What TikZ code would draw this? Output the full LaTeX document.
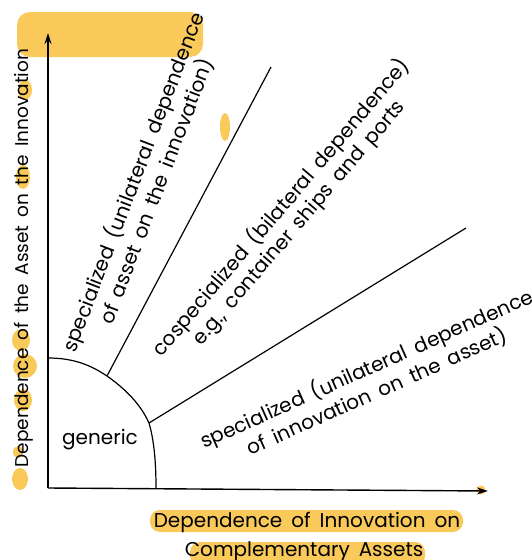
\documentclass[tikz,border=0pt]{standalone}
\usepackage{fontspec}
\setmainfont{Poppins}
\usetikzlibrary{arrows.meta}
\definecolor{hl}{RGB}{249,202,90}
\newcommand\lblfont{\fontsize{20}{23}\selectfont\spaceskip=0.45em plus 0.1em\relax}
\newcommand\ylblfont{\fontsize{18.5}{22}\selectfont\spaceskip=0.45em plus 0.1em\relax}
\tikzset{
  axis/.style={line width=1.4pt, -{Stealth[length=11pt,width=7pt]}},
  ray/.style={line width=1.2pt},
  lbl/.style={font=\lblfont, inner sep=0pt, align=center},
  blob/.style={fill=hl, draw=none}
}
\begin{document}
\begin{tikzpicture}[x=1pt,y=-1pt]
\useasboundingbox (0,0) rectangle (531,560);
% highlighter marks
\fill[hl, rounded corners=13pt] (17,12) rectangle (203,57);
\fill[hl, rounded corners=10pt] (150,510) rectangle (463,532);
\fill[hl, rounded corners=10pt] (190,542) rectangle (425,566);
\fill[hl] (225,127) ellipse [x radius=5, y radius=14];
\fill[hl] (25,90) ellipse [x radius=7, y radius=10];
\fill[hl] (23,177) ellipse [x radius=7, y radius=12];
\fill[hl] (21,340) ellipse [x radius=9, y radius=11];
\fill[hl] (25,366) ellipse [x radius=12, y radius=12];
\fill[hl] (23,400) ellipse [x radius=9, y radius=11];
\fill[hl] (18,452) ellipse [x radius=5, y radius=6];
\fill[hl] (20,479) ellipse [x radius=8, y radius=11];
\fill[hl] (481,490) circle [radius=4.5];
% axes
\coordinate (O) at (48,488);
\coordinate (ytip) at (48,33);
\coordinate (xtip) at (488,491);
\draw[axis] (O) -- (ytip);
\draw[axis] (O) -- (xtip);
% quarter curve
\coordinate (c0) at (48,358);
\coordinate (a1) at (107,376);
\coordinate (a2) at (149,423);
\coordinate (c3) at (156,488);
\draw[ray] (c0) .. controls (75,358) and (92,366) .. (a1)
  .. controls (124,388) and (140,403) .. (a2)
  .. controls (154,440) and (156,462) .. (c3);
% rays
\coordinate (e1) at (271,67);
\coordinate (e2) at (466,228);
\draw[ray] (a1) -- (e1);
\draw[ray] (a2) -- (e2);
% labels
\node[lbl] (gen) at (100,440) {generic};
\node[lbl, rotate=69] (s1) at (144.5,186.5) {specialized (unilateral dependence\\of asset on the innovation)};
\node[lbl, rotate=49.5] (cs) at (290,215) {cospecialized (bilateral dependence)\\e.g., container ships and ports};
\node[lbl, rotate=24] (s2) at (371.5,380) {specialized (unilateral dependence\\of innovation on the asset)};
\node[lbl, font=\ylblfont, rotate=90, anchor=base] (ylab) at (28,258) {Dependence of the Asset on the Innovation};
\node[lbl, anchor=base] (xlab1) at (307,527) {Dependence of Innovation on};
\node[lbl, anchor=base] (xlab2) at (304,556) {Complementary Assets};
\end{tikzpicture}
\end{document}
